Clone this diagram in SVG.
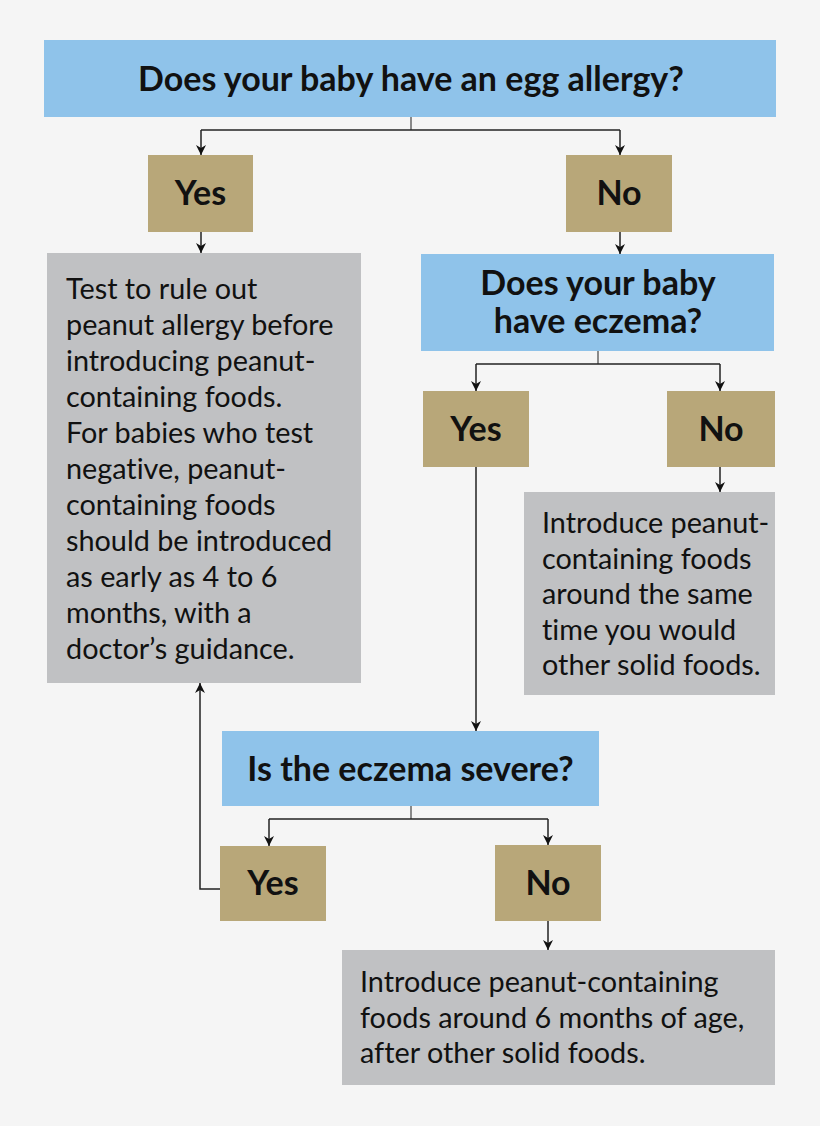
<svg xmlns="http://www.w3.org/2000/svg" width="820" height="1126" viewBox="0 0 820 1126">
<style>
.q{fill:#8fc3ea}
.a{fill:#b8a779}
.r{fill:#c0c1c3}
.tb{font-family:Lato,"Liberation Sans",sans-serif;font-weight:bold;font-size:34px;fill:#111;text-anchor:middle}
.tr{font-family:Lato,"Liberation Sans",sans-serif;font-size:28.8px;fill:#111;font-variant-ligatures:none}
.c{fill:none;stroke:#222;stroke-width:1.5}
.s{fill:none;stroke:#666;stroke-width:1.5}
</style>
<defs>
<marker id="ah" viewBox="0 0 10 12" refX="10" refY="6" markerWidth="10" markerHeight="12" markerUnits="userSpaceOnUse" orient="auto">
<path d="M0,1 L10,6 L0,11 L3,6 Z" fill="#111"/>
</marker>
</defs>
<rect width="820" height="1126" fill="#f5f5f5"/>
<g id="connectors">
<path class="s" d="M411,117 V130"/>
<path class="c" d="M201,130 H620"/>
<path class="c" d="M201,130 V155" marker-end="url(#ah)"/>
<path class="c" d="M620,130 V155" marker-end="url(#ah)"/>
<path class="c" d="M201,232 V253" marker-end="url(#ah)"/>
<path class="c" d="M620,232 V254" marker-end="url(#ah)"/>
<path class="s" d="M598,351 V364"/>
<path class="c" d="M476,364 H720"/>
<path class="c" d="M476,364 V391" marker-end="url(#ah)"/>
<path class="c" d="M720,364 V391" marker-end="url(#ah)"/>
<path class="c" d="M720,467 V492" marker-end="url(#ah)"/>
<path class="c" d="M476,467 V731" marker-end="url(#ah)"/>
<path class="s" d="M411,806 V819"/>
<path class="c" d="M269,819 H548"/>
<path class="c" d="M269,819 V846" marker-end="url(#ah)"/>
<path class="c" d="M548,819 V845" marker-end="url(#ah)"/>
<path class="c" d="M548,921 V950" marker-end="url(#ah)"/>
<path class="c" d="M220,889 H200 V683" marker-end="url(#ah)"/>
</g>
<g id="q1"><rect class="q" x="44" y="40" width="732" height="77"/><text class="tb" x="411" y="91">Does your baby have an egg allergy?</text></g>
<g id="yes1"><rect class="a" x="148" y="155" width="105" height="77"/><text class="tb" x="200.5" y="205">Yes</text></g>
<g id="no1"><rect class="a" x="566" y="155" width="106" height="77"/><text class="tb" x="619" y="205">No</text></g>
<g id="r1"><rect class="r" x="47" y="253" width="314" height="430"/>
<text class="tr" x="66" y="299">Test to rule out</text>
<text class="tr" x="66" y="335">peanut allergy before</text>
<text class="tr" x="66" y="371">introducing peanut-</text>
<text class="tr" x="66" y="407">containing foods.</text>
<text class="tr" x="66" y="443">For babies who test</text>
<text class="tr" x="66" y="479">negative, peanut-</text>
<text class="tr" x="66" y="515">containing foods</text>
<text class="tr" x="66" y="551">should be introduced</text>
<text class="tr" x="66" y="587">as early as 4 to 6</text>
<text class="tr" x="66" y="623">months, with a</text>
<text class="tr" x="66" y="659">doctor’s guidance.</text>
</g>
<g id="q2"><rect class="q" x="421" y="254" width="353" height="97"/><text class="tb" x="598" y="294.5">Does your baby</text><text class="tb" x="598" y="332.5">have eczema?</text></g>
<g id="yes2"><rect class="a" x="423" y="391" width="106" height="76"/><text class="tb" x="476" y="441">Yes</text></g>
<g id="no2"><rect class="a" x="667" y="391" width="108" height="76"/><text class="tb" x="721" y="441">No</text></g>
<g id="r2"><rect class="r" x="524" y="492" width="251" height="203"/>
<text class="tr" x="542" y="533">Introduce peanut-</text>
<text class="tr" x="542" y="568.5">containing foods</text>
<text class="tr" x="542" y="604">around the same</text>
<text class="tr" x="542" y="639.5">time you would</text>
<text class="tr" x="542" y="675">other solid foods.</text>
</g>
<g id="q3"><rect class="q" x="222" y="731" width="377" height="75"/><text class="tb" x="410.5" y="781">Is the eczema severe?</text></g>
<g id="yes3"><rect class="a" x="220" y="846" width="106" height="75"/><text class="tb" x="273" y="895">Yes</text></g>
<g id="no3"><rect class="a" x="495" y="845" width="106" height="76"/><text class="tb" x="548" y="895">No</text></g>
<g id="r3"><rect class="r" x="342" y="950" width="433" height="135"/>
<text class="tr" x="360" y="992">Introduce peanut-containing</text>
<text class="tr" x="360" y="1027.5">foods around 6 months of age,</text>
<text class="tr" x="360" y="1063">after other solid foods.</text>
</g>
</svg>
